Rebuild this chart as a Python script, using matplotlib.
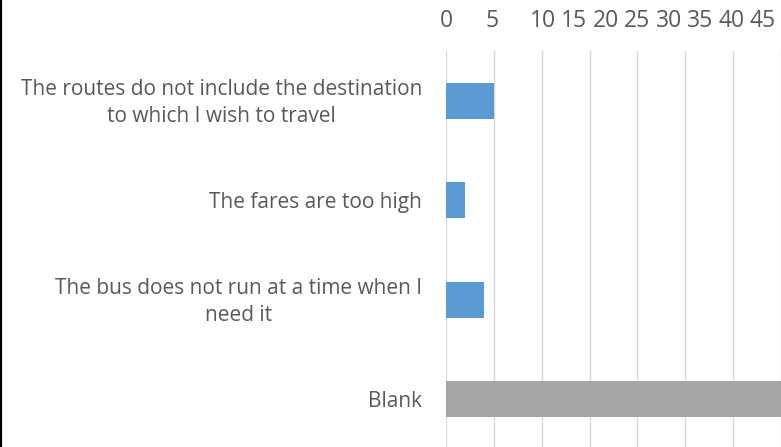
import matplotlib
matplotlib.use("Agg")
import matplotlib.pyplot as plt
from matplotlib.lines import Line2D
from matplotlib.transforms import offset_copy

categories = [
    "The routes do not include the destination\nto which I wish to travel",
    "The fares are too high",
    "The bus does not run at a time when I\nneed it",
    "Blank",
]
values = [5, 2, 4, 44]
bar_colors = ["#5B9BD5", "#5B9BD5", "#5B9BD5", "#A5A5A5"]
tick_labels = ["0", "5", "10", "15", "20", "25", "30", "35", "40", "45"]
grid_ticks = [0, 5, 10, 15, 20, 25, 30, 35]
# layout: where the (crowded) top labels sit, in axis data units
label_pos = [0, 4.8, 10.1, 13.4, 16.7, 20.0, 23.3, 26.5, 29.8, 33.1]

W, H = 781, 447
fig = plt.figure(figsize=(W / 100, H / 100), dpi=100)
plt.rcParams['font.family'] = ['Open Sans', 'DejaVu Sans']

left = 446 / W
top = 1 - 51 / H
bottom = 1 - 449 / H
ax = fig.add_axes([left, bottom, 1 - left, top - bottom])
axw = W - 446

ypos = list(range(len(categories)))
ax.barh(ypos, values, height=0.36, color=bar_colors, zorder=3)
ax.set_ylim(len(categories) - 0.5, -0.5)
ax.set_xlim(0, 34.9)

ax.set_xticks(grid_ticks)
ax.xaxis.grid(True, color="#D9D9D9", linewidth=1.0, zorder=0)
ax.tick_params(axis="x", length=0, labelbottom=False, labeltop=False)
ax.set_yticks(ypos)
ax.tick_params(axis="y", length=0, labelleft=False)
for s in ax.spines.values():
    s.set_visible(False)

cat_tr = offset_copy(ax.get_yaxis_transform(), fig=fig, x=-24, y=-2, units="dots")
for yp, cat in zip(ypos, categories):
    ax.text(0, yp, cat, transform=cat_tr,
            ha="right", va="center", multialignment="center", linespacing=1.36,
            fontsize=15, color="#595959", clip_on=False)

top_tr = offset_copy(ax.get_xaxis_transform(), fig=fig, y=30, units="dots")
for lp, tl in zip(label_pos, tick_labels):
    ax.text(lp, 1, tl, transform=top_tr,
            ha="center", va="center", fontsize=16.5, color="#595959", clip_on=False)

fig.add_artist(Line2D([1.2 / W, 1.2 / W], [0, 1], color="black", linewidth=1.6,
                      transform=fig.transFigure))

fig.savefig("out.png", dpi=100)
